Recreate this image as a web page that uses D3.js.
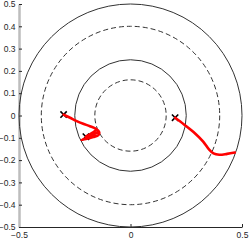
<!DOCTYPE html>
<html>
<head>
<meta charset="utf-8">
<script src="https://cdn.jsdelivr.net/npm/d3@7"></script>
<style>
  body { margin: 0; background: #fff; }
  svg { display: block; font-family: 'Liberation Sans', Arial, sans-serif; }
</style>
</head>
<body>
<div id="chart"></div>
<script>
const xTicks = [-0.5, 0, 0.5]
const yTicks = [-0.5, -0.4, -0.3, -0.2, -0.1, 0, 0.1, 0.2, 0.3, 0.4, 0.5]
const circleRadii = [0.5, 0.4, 0.25, 0.16]
const circleDashed = [false, true, false, true]

// left trajectory
const pathAx = [-0.300, -0.271, -0.241, -0.212, -0.182, -0.155, -0.140, -0.144, -0.167, -0.196, -0.219, -0.190, -0.160, -0.145, -0.152, -0.172, -0.200]
const pathAy = [0.004, -0.010, -0.025, -0.037, -0.048, -0.060, -0.075, -0.088, -0.097, -0.104, -0.110, -0.098, -0.083, -0.072, -0.066, -0.078, -0.095]
// right trajectory
const pathBx = [0.200, 0.240, 0.285, 0.325, 0.352, 0.372, 0.398, 0.433, 0.468]
const pathBy = [-0.010, -0.040, -0.076, -0.116, -0.152, -0.170, -0.176, -0.172, -0.166]

const markerX = [-0.300, 0.200, -0.200]
const markerY = [0.004, -0.010, -0.095]

const fullWidth = 249, fullHeight = 241

const svg = d3.select('#chart')
  .append('svg')
    .attr('width', fullWidth)
    .attr('height', fullHeight)

const xScale = d3.scaleLinear().domain([-0.5, 0.5]).range([19, 242])
const yScale = d3.scaleLinear().domain([-0.5, 0.5]).range([227, 4])

// axes (ticks point inward)
const xAxis = svg.append('g')
  .attr('transform', `translate(0, ${yScale(-0.5)})`)
  .call(d3.axisBottom(xScale).tickValues(xTicks).tickFormat(d3.format('')).tickSizeInner(-3).tickSizeOuter(0).tickPadding(5))
const yAxis = svg.append('g')
  .attr('transform', `translate(${xScale(-0.5)}, 0)`)
  .call(d3.axisLeft(yScale).tickValues(yTicks).tickFormat(d3.format('')).tickSizeInner(-3).tickSizeOuter(0).tickPadding(3.5))

svg.selectAll('.tick text').attr('fill', '#262626').style('font-size', '8.5px')
svg.selectAll('.tick line').attr('stroke', '#262626')
xAxis.select('.domain').attr('stroke', '#262626')
yAxis.select('.domain').attr('stroke', '#bdbdbd').attr('stroke-width', 2.5)

// circles
svg.append('g')
  .selectAll('ellipse')
  .data(circleRadii)
  .enter()
  .append('ellipse')
    .attr('cx', xScale(0))
    .attr('cy', yScale(0))
    .attr('rx', d => xScale(d) - xScale(0))
    .attr('ry', d => yScale(0) - yScale(d))
    .attr('fill', 'none')
    .attr('stroke', '#333')
    .attr('stroke-width', 1)
    .attr('stroke-dasharray', (d, i) => circleDashed[i] ? '5,3' : null)

// markers
const markers = markerX.map((x, i) => ({ x, y: markerY[i] }))
svg.append('g')
  .selectAll('path')
  .data(markers)
  .enter()
  .append('path')
    .attr('transform', d => `translate(${xScale(d.x)}, ${yScale(d.y)})`)
    .attr('d', d3.symbol(d3.symbolTimes, 28))
    .attr('fill', 'none')
    .attr('stroke', '#000')
    .attr('stroke-width', 1.6)

// trajectories
const line = d3.line()
  .x(d => xScale(d[0]))
  .y(d => yScale(d[1]))
  .curve(d3.curveCatmullRom)

const trajectories = [
  pathAx.map((x, i) => [x, pathAy[i]]),
  pathBx.map((x, i) => [x, pathBy[i]])
]

svg.append('g')
  .selectAll('.traj')
  .data(trajectories)
  .enter()
  .append('path')
    .attr('class', 'traj')
    .attr('d', d => line(d))
    .attr('fill', 'none')
    .attr('stroke', '#ff0000')
    .attr('stroke-width', 2.6)
    .attr('stroke-linejoin', 'round')
    .attr('stroke-linecap', 'round')
</script>
</body>
</html>
